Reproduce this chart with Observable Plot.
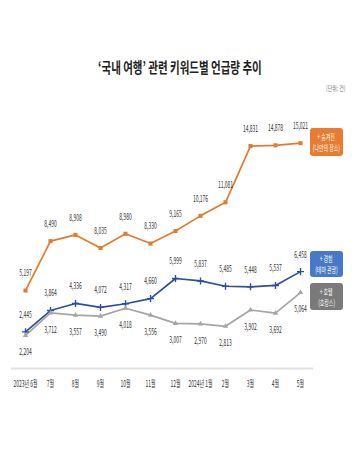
<!DOCTYPE html>
<html><head><meta charset="utf-8">
<script src="https://cdn.jsdelivr.net/npm/d3@7"></script>
<script src="https://cdn.jsdelivr.net/npm/@observablehq/plot@0.6"></script>
<style>
body{margin:0;background:#fff;font-family:"Noto Sans CJK KR","Noto Sans",sans-serif;}
#wrap{position:relative;width:359px;height:454px;overflow:hidden;background:#fff;}
#title{position:absolute;top:57px;left:0;width:359px;text-align:center;font-size:15px;font-weight:700;color:#222;line-height:20px;}
#title span{display:inline-block;transform:scaleX(0.7);}
#unit{position:absolute;top:83px;left:326px;font-size:7px;color:#777;white-space:nowrap;}
#unit span{display:inline-block;transform:scaleX(0.7);transform-origin:left center;}
#chart{position:absolute;top:95px;left:0;}
.box{position:absolute;left:310px;width:33px;border-radius:3px;color:#fff;font-size:8.5px;line-height:11px;text-align:center;display:flex;flex-direction:column;justify-content:center;align-items:center;}
.box span{display:block;transform:scaleX(0.58);white-space:nowrap;}
</style></head>
<body>
<div id="wrap">
  <div id="title"><span>‘국내 여행’ 관련 키워드별 언급량 추이</span></div>
  <div id="unit"><span>(단위: 건)</span></div>
  <div id="chart"></div>
  <div class="box" style="top:128px;height:28px;background:#E97C30;"><span>+ 숨겨진</span><span>(나만의 장소)</span></div>
  <div class="box" style="top:251px;height:26px;background:#4A78C8;"><span>+ 경험</span><span>(테마 관광)</span></div>
  <div class="box" style="top:283px;height:27px;background:#7A7A7A;"><span>+ 호텔</span><span>(호캉스)</span></div>
</div>
<script>
const months = ["2023년 6월","7월","8월","9월","10월","11월","12월","2024년 1월","2월","3월","4월","5월"];
const seriesKeys = ["숨겨진","경험","호텔"];
const seriesColors = ["#E37B2F","#2F4E9C","#A5A5A5"];
const hidden = [5197,8490,8908,8035,8980,8330,9165,10176,11081,14831,14878,15021];
const experience = [2445,3864,4336,4072,4317,4660,5999,5837,5485,5448,5537,6458];
const hotel = [2204,3712,3557,3490,4018,3556,3007,2970,2813,3902,3692,5064];

const seriesValues = [hidden, experience, hotel];
const rows = [];
seriesKeys.forEach((k, s) => months.forEach((m, i) => rows.push({month: m, key: k, value: seriesValues[s][i]})));
const fmt = d3.format(",");
const above = rows.filter(d => d.key !== "호텔");
const below = rows.filter(d => d.key === "호텔");

const svg = Plot.plot({
  width: 359,
  height: 310,
  marginLeft: 11,
  marginRight: 46,
  marginTop: 33,
  marginBottom: 37,
  style: {fontFamily: '"Noto Sans CJK KR","Noto Sans",sans-serif', fontSize: "9px", color: "#333", background: "transparent"},
  x: {type: "point", domain: months, padding: 0.5, tickSize: 0, tickPadding: 12, label: null},
  y: {domain: [0, 16000], axis: null},
  color: {domain: seriesKeys, range: seriesColors},
  marks: [
    Plot.ruleY([0], {stroke: "#e2e2e2", strokeWidth: 2}),
    Plot.line(rows, {x: "month", y: "value", z: "key", stroke: "key", strokeWidth: 1.7}),
    Plot.dot(rows.filter(d => d.key === "숨겨진"), {x: "month", y: "value", symbol: "square", r: 2.3, fill: seriesColors[0]}),
    Plot.dot(rows.filter(d => d.key === "경험"), {x: "month", y: "value", symbol: "plus", r: 2.4, stroke: seriesColors[1], strokeWidth: 1.4}),
    Plot.dot(rows.filter(d => d.key === "호텔"), {x: "month", y: "value", symbol: "triangle", r: 2, fill: seriesColors[2]}),
    Plot.text(above, {x: "month", y: "value", text: d => fmt(d.value), dy: -17, fill: "#333"}),
    Plot.text(below, {x: "month", y: "value", text: d => fmt(d.value), dy: 17, fill: "#333"})
  ]
});
svg.querySelectorAll("text").forEach(t => {
  const tr = t.getAttribute("transform") || "";
  const x = +t.getAttribute("x") || 0;
  t.setAttribute("transform", `${tr} translate(${x},0) scale(0.55,1) translate(${-x},0)`);
});
document.getElementById("chart").appendChild(svg);
</script>
</body></html>
